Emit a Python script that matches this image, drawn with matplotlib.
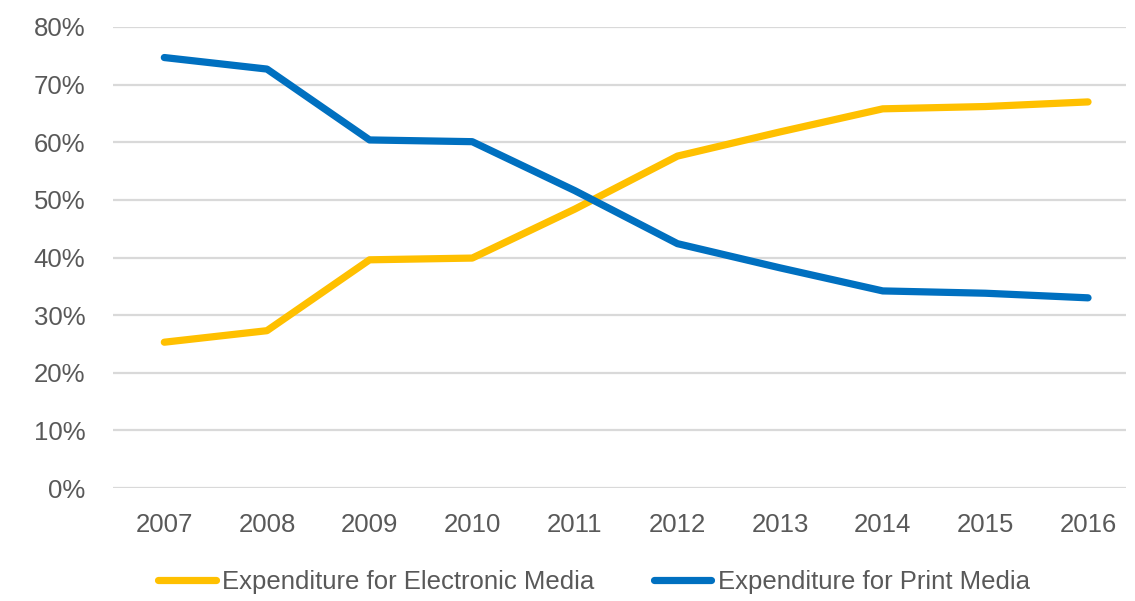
import matplotlib
matplotlib.use("Agg")
import matplotlib.pyplot as plt
from matplotlib.ticker import FuncFormatter

years = ["2007", "2008", "2009", "2010", "2011", "2012", "2013", "2014", "2015", "2016"]
electronic = [25.3, 27.3, 39.6, 39.9, 48.4, 57.6, 61.8, 65.8, 66.2, 67.0]
print_media = [74.7, 72.7, 60.4, 60.1, 51.6, 42.4, 38.2, 34.2, 33.8, 33.0]
series_names = ["Expenditure for Electronic Media", "Expenditure for Print Media"]
yticks = [0, 10, 20, 30, 40, 50, 60, 70, 80]

plt.rcParams['font.family'] = ['Liberation Sans', 'DejaVu Sans']
txt = "#595959"

fig = plt.figure(figsize=(11.35, 6.01), dpi=100)
ax = fig.add_axes([113/1135, 1-488/601, (1126-113)/1135, (488-27)/601])

x = list(range(len(years)))
ax.plot(x, electronic, color="#FFC000", lw=5.2, solid_capstyle="round", solid_joinstyle="round",
        label=series_names[0], zorder=3)
ax.plot(x, print_media, color="#0070C0", lw=5.2, solid_capstyle="round", solid_joinstyle="round",
        label=series_names[1], zorder=3)

ax.set_ylim(0, 80)
ax.set_xlim(-0.5, 9.37)
ax.set_yticks(yticks)
ax.yaxis.set_major_formatter(FuncFormatter(lambda v, p: f"{int(v)}%"))
ax.set_xticks(x)
ax.set_xticklabels(years)
ax.grid(axis="y", color="#D9D9D9", lw=1.6, zorder=0)
ax.set_axisbelow(True)
for s in ax.spines.values():
    s.set_visible(False)
ax.tick_params(axis="both", length=0, labelsize=18.5, labelcolor=txt)
ax.tick_params(axis="y", pad=20)
ax.tick_params(axis="x", pad=18)

leg = fig.legend(loc="center", bbox_to_anchor=(594/1135, 1-582/601), ncol=2, frameon=False,
                 fontsize=18.5, handlelength=2.25, handletextpad=0.25, columnspacing=2.3)
for t in leg.get_texts():
    t.set_color(txt)

fig.savefig("out.png", dpi=100)
